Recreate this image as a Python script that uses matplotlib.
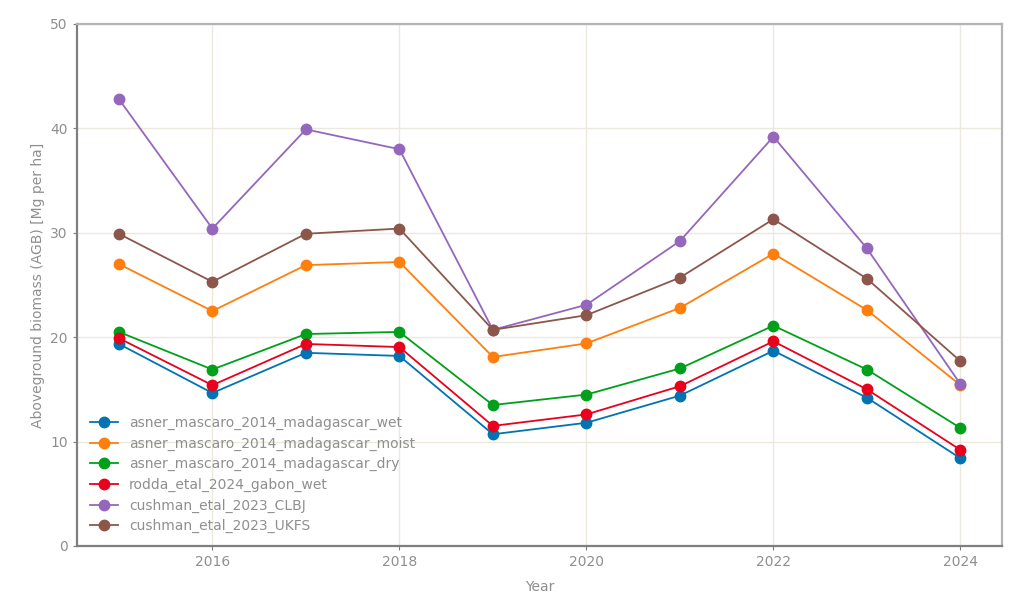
import numpy as np
import matplotlib
matplotlib.use("Agg")
from matplotlib import pyplot as plt

years = [2015, 2016, 2017, 2018, 2019, 2020, 2021, 2022, 2023, 2024]

names = [
    "asner_mascaro_2014_madagascar_wet",
    "asner_mascaro_2014_madagascar_moist",
    "asner_mascaro_2014_madagascar_dry",
    "rodda_etal_2024_gabon_wet",
    "cushman_etal_2023_CLBJ",
    "cushman_etal_2023_UKFS",
]
wet = [19.35, 14.65, 18.5, 18.2, 10.7, 11.8, 14.4, 18.7, 14.2, 8.4]
moist = [27.0, 22.5, 26.9, 27.2, 18.1, 19.4, 22.8, 28.0, 22.6, 15.4]
dry = [20.5, 16.9, 20.3, 20.5, 13.5, 14.5, 17.0, 21.1, 16.9, 11.3]
gabon = [19.9, 15.4, 19.35, 19.05, 11.5, 12.6, 15.3, 19.6, 15.0, 9.2]
clbj = [42.8, 30.4, 39.9, 38.0, 20.7, 23.1, 29.2, 39.2, 28.5, 15.5]
ukfs = [29.9, 25.3, 29.9, 30.4, 20.7, 22.1, 25.7, 31.3, 25.6, 17.7]

series = [wet, moist, dry, gabon, clbj, ukfs]
colors = ["#0173b2", "#ff7f0e", "#00a01a", "#e8001c", "#9467bd", "#8c564b"]

txt = "#8f8f8f"
fig = plt.figure(figsize=(10.24, 5.98), dpi=100)
ax = fig.add_axes([0.075, 0.087, 0.904, 0.873])

for vals, name, c in zip(series, names, colors):
    ax.plot(years, vals, "-o", color=c, lw=1.3, ms=7.5, label=name)

ax.set_ylim(0, 50)
ax.set_xticks([2016, 2018, 2020, 2022, 2024])
ax.set_yticks([0, 10, 20, 30, 40, 50])
ax.grid(True, color="#ece9dc", lw=1)
ax.set_axisbelow(True)

for s in ["left", "bottom"]:
    ax.spines[s].set_color("#7f7f7f")
    ax.spines[s].set_linewidth(1.6)
for s in ["top", "right"]:
    ax.spines[s].set_color("#b4b4b4")
    ax.spines[s].set_linewidth(1.6)

ax.tick_params(colors="#7f7f7f", labelcolor=txt, labelsize=10, length=3)
ax.set_xlabel("Year", color=txt, fontsize=10, labelpad=8)
ax.set_ylabel("Aboveground biomass (AGB) [Mg per ha]", color=txt, fontsize=10)

leg = ax.legend(loc="lower left", bbox_to_anchor=(0.003, 0.004),
                frameon=False, fontsize=10, labelcolor=txt,
                handlelength=2.0, borderaxespad=0.35,
                handletextpad=0.8, labelspacing=0.47)

fig.savefig("out.png", dpi=100)
